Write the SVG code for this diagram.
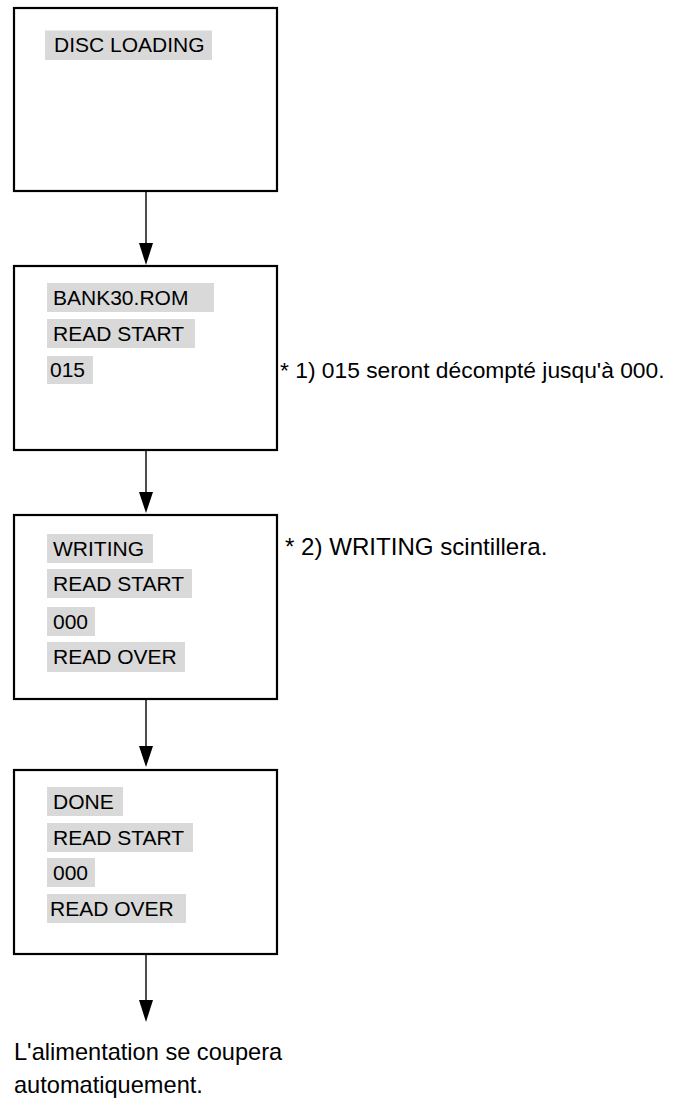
<svg xmlns="http://www.w3.org/2000/svg" width="674" height="1101" viewBox="0 0 674 1101">
<style>
.box{fill:#fff;stroke:#000;stroke-width:2.2}
.bg{fill:#d9d9d9}
.lbl{font-family:"Liberation Sans",Arial,sans-serif;font-size:21px;fill:#000}
.note{font-family:"Liberation Sans",Arial,sans-serif;font-size:23.6px;fill:#000}
.conn{stroke:#000;stroke-width:1.4;fill:none}
.head{fill:#000}
</style>
<rect width="674" height="1101" fill="#fff"/>
<g id="node1">
<rect class="box" x="14" y="8" width="263" height="183"/>
<rect class="bg" x="45" y="30.5" width="167" height="29.5"/>
<text class="lbl" x="54" y="52">DISC LOADING</text>
</g>
<g id="node2">
<rect class="box" x="14" y="266" width="263" height="184"/>
<rect class="bg" x="47" y="283" width="167" height="29"/>
<text class="lbl" x="53" y="305">BANK30.ROM</text>
<rect class="bg" x="47" y="319" width="148" height="29"/>
<text class="lbl" x="53" y="341">READ START</text>
<rect class="bg" x="47" y="356" width="46" height="28"/>
<text class="lbl" x="50" y="377">015</text>
</g>
<g id="node3">
<rect class="box" x="14" y="515" width="263" height="184"/>
<rect class="bg" x="47" y="534" width="106" height="29"/>
<text class="lbl" x="53" y="556">WRITING</text>
<rect class="bg" x="47" y="569" width="145" height="29"/>
<text class="lbl" x="53" y="591">READ START</text>
<rect class="bg" x="47" y="607" width="48" height="29"/>
<text class="lbl" x="53" y="629">000</text>
<rect class="bg" x="47" y="642" width="138" height="30"/>
<text class="lbl" x="53" y="664">READ OVER</text>
</g>
<g id="node4">
<rect class="box" x="14" y="770" width="263" height="184"/>
<rect class="bg" x="47" y="787" width="76" height="29"/>
<text class="lbl" x="53" y="809">DONE</text>
<rect class="bg" x="47" y="823" width="146" height="29"/>
<text class="lbl" x="53" y="845">READ START</text>
<rect class="bg" x="47" y="858" width="48" height="29"/>
<text class="lbl" x="53" y="880">000</text>
<rect class="bg" x="47" y="894" width="139" height="29"/>
<text class="lbl" x="50" y="916">READ OVER</text>
</g>
<g id="notes">
<text class="note" x="280" y="378" style="font-size:22.8px">* 1) 015 seront décompté jusqu'à 000.</text>
<text class="note" x="285" y="555" style="font-size:24.1px">* 2) WRITING scintillera.</text>
</g>
<g id="end">
<text class="note" x="14" y="1060">L'alimentation se coupera</text>
<text class="note" x="14" y="1093">automatiquement.</text>
</g>
<g id="connectors">
<line class="conn" x1="146" y1="191" x2="146" y2="245"/>
<polygon class="head" points="139,243 153,243 146,265"/>
<line class="conn" x1="146" y1="450" x2="146" y2="493"/>
<polygon class="head" points="139,492 153,492 146,513"/>
<line class="conn" x1="146" y1="699" x2="146" y2="747"/>
<polygon class="head" points="139,746 153,746 146,767"/>
<line class="conn" x1="146" y1="954" x2="146" y2="1002"/>
<polygon class="head" points="139,1000 153,1000 146,1022"/>
</g>
</svg>
